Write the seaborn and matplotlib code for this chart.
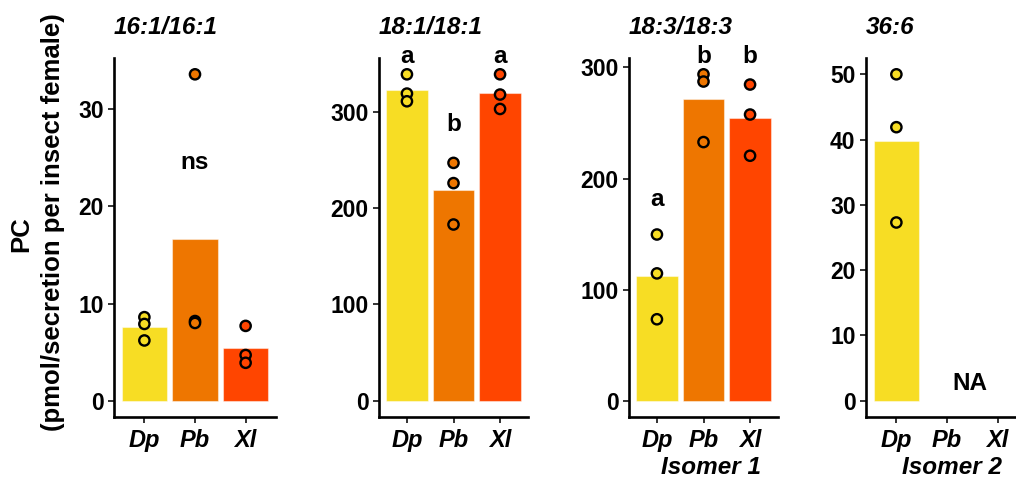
import matplotlib
matplotlib.use("Agg")
import matplotlib.pyplot as plt
import seaborn as sns
import pandas as pd

# ---------------- data ----------------
species = ["Dp", "Pb", "Xl"]
bar_colors = ["#F7DD24", "#EE7600", "#FF4500"]
titles = ["16:1/16:1", "18:1/18:1", "18:3/18:3", "36:6"]

# panel 1 : PC 16:1/16:1
p1_dp = [8.6, 7.9, 6.2]
p1_pb = [33.6, 8.2, 8.0]
p1_xl = [7.7, 4.7, 3.9]
# panel 2 : PC 18:1/18:1
p2_dp = [339, 319, 311]
p2_pb = [247, 226, 183]
p2_xl = [339, 318, 303]
# panel 3 : PC 18:3/18:3 (isomer 1)
p3_dp = [149.6, 114.6, 73.3]
p3_pb = [293.8, 287.3, 232.8]
p3_xl = [284.6, 257.6, 220.5]
# panel 4 : PC 36:6 (isomer 2) - only Dp detected
p4_dp = [50.0, 41.9, 27.3]
p4_pb = []
p4_xl = []

yticks = [[0, 10, 20, 30], [0, 100, 200, 300], [0, 100, 200, 300],
          [0, 10, 20, 30, 40, 50]]

# significance labels
p1_labels = ["", "ns", ""]
p2_labels = ["a", "b", "a"]
p3_labels = ["a", "b", "b"]
p4_labels = ["", "NA", ""]

xlabels = ["", "", "Isomer 1", "Isomer 2"]

# ---------------- style ----------------
sns.set_theme(style="ticks")
plt.rcParams["font.family"] = ["Liberation Sans", "DejaVu Sans"]
plt.rcParams["font.weight"] = "bold"
plt.rcParams["text.color"] = "black"
plt.rcParams["axes.labelcolor"] = "black"
plt.rcParams["xtick.color"] = "#333333"
plt.rcParams["ytick.color"] = "#333333"

W, H = 1016, 484
fig = plt.figure(figsize=(W / 100, H / 100), dpi=100)

# panel frames in pixels (left, right), shared top/bottom
frames = [(114, 276), (379, 528), (629, 778), (866, 1028)]
top_px, bot_px = 58, 417

# label placement (data coords of text centre)
label_pos = [
    [None, (1, 24.5), None],
    [(0, 358), (1, 286.6), (2, 358)],
    [(0, 181.3), (1, 309.7), (2, 309.7)],
    [None, (1.45, 2.7), None],
]
xlabel_x = [0.5, 0.5, 0.55, 0.53]

panels = [
    (p1_dp, p1_pb, p1_xl, p1_labels),
    (p2_dp, p2_pb, p2_xl, p2_labels),
    (p3_dp, p3_pb, p3_xl, p3_labels),
    (p4_dp, p4_pb, p4_xl, p4_labels),
]

for i, (dp, pb, xl, labs) in enumerate(panels):
    l, r = frames[i]
    ax = fig.add_axes([l / W, 1 - bot_px / H, (r - l) / W, (bot_px - top_px) / H])
    df = pd.DataFrame({
        "species": ["Dp"] * len(dp) + ["Pb"] * len(pb) + ["Xl"] * len(xl),
        "value": list(dp) + list(pb) + list(xl),
    })
    sns.barplot(data=df, x="species", y="value", hue="species",
                order=species, hue_order=species, palette=bar_colors,
                width=0.9, errorbar=None, saturation=1, legend=False,
                edgecolor=(1, 1, 1, 0.45), linewidth=0.8, ax=ax)
    sns.stripplot(data=df, x="species", y="value", hue="species",
                  order=species, hue_order=species, palette=bar_colors,
                  jitter=False, size=7.4, linewidth=1.7, edgecolor="black",
                  legend=False, ax=ax, zorder=3)
    hi = df["value"].max()
    ax.set_ylim(-0.05 * hi, 1.05 * hi)
    ax.set_xlim(-0.6, 2.6)
    ax.set_yticks(yticks[i])
    ax.set_xticks(range(3))
    ax.set_xticklabels(species)
    ax.set_ylabel("")
    ax.set_xlabel("")
    for s in ["top", "right"]:
        ax.spines[s].set_visible(False)
    for s in ["left", "bottom"]:
        ax.spines[s].set_linewidth(1.9)
        ax.spines[s].set_color("black")
    ax.tick_params(axis="both", left=True, bottom=True, length=4.5,
                   width=1.4, color="#333333", labelsize=16.5, pad=3,
                   labelcolor="black")
    ax.tick_params(axis="x", pad=4)
    for t in ax.get_yticklabels():
        t.set_fontweight("bold")
    for t in ax.get_xticklabels():
        t.set_fontweight("bold")
        t.set_fontstyle("italic")
        t.set_fontsize(17)
    ax.set_title(titles[i], loc="left", fontsize=17.5, fontweight="bold",
                 fontstyle="italic", pad=17, color="black")
    for lab, pos in zip(labs, label_pos[i]):
        if lab and pos is not None:
            ax.text(pos[0], pos[1], lab, ha="center", va="center",
                    fontsize=17.5, fontweight="bold", clip_on=False,
                    color="black")
    if xlabels[i]:
        ax.set_xlabel(xlabels[i], fontsize=17.5, fontweight="bold",
                      fontstyle="italic", labelpad=3, color="black")
        ax.xaxis.label.set_position((xlabel_x[i], 0))

fig.text(21 / W, 1 - 234 / H, "PC", rotation=90, ha="center", va="center",
         fontsize=18.5, fontweight="bold", color="black")
fig.text(53 / W, 1 - 222 / H, "(pmol/secretion per insect female)",
         rotation=90, ha="center", va="center", fontsize=18.5,
         fontweight="bold", color="black")

fig.savefig("out.png", dpi=100)
